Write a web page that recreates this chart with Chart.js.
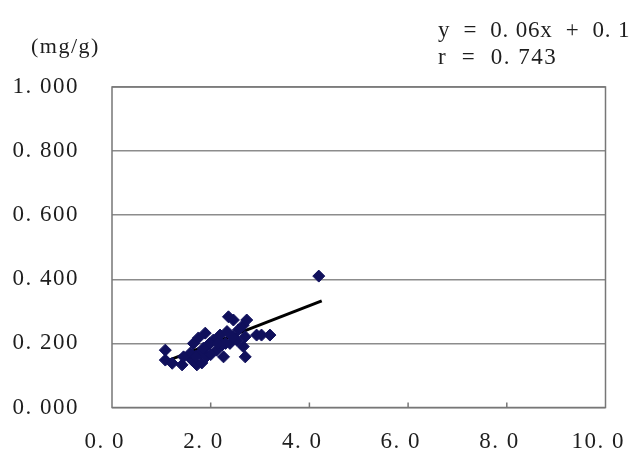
<!DOCTYPE html>
<html>
<head>
<meta charset="utf-8">
<script src="https://cdn.jsdelivr.net/npm/chart.js@4/dist/chart.umd.min.js"></script>
<style>
  html, body { margin: 0; padding: 0; background: #fff; }
  #wrap { position: relative; width: 636px; height: 455px; overflow: hidden; }
  canvas { position: absolute; left: 0; top: 0; }
  .note { position: absolute; font-family: "Liberation Serif", serif; color: #1e1e1e; white-space: pre; line-height: 22px; letter-spacing: 1.5px; }
</style>
</head>
<body>
<div id="wrap">
  <canvas id="c" width="636" height="455"></canvas>
  <div class="note" id="unit" style="left:31px; top:35px; font-size:22px;"></div>
  <div class="note" id="eq" style="left:438px; top:19px; font-size:23px; letter-spacing:0.8px;"></div>
  <div class="note" id="rr" style="left:438px; top:46px; font-size:23px;"></div>
</div>
<script>
// Measured samples (x, content in mg/g)
const sampleX = [1.08, 1.08, 1.22, 1.42, 1.62, 1.72, 1.82, 1.65, 1.75, 1.89, 1.92, 2.05, 2.12, 2.19,
                 2.33, 2.36, 2.46, 2.39, 2.56, 2.66, 2.73, 2.70, 2.66, 2.70, 2.93, 3.03, 3.20, 1.59,
                 1.79, 1.92, 1.45, 2.23, 2.53, 2.26, 1.98, 2.00, 1.85, 2.15, 2.30, 2.45, 1.70, 4.19];
const sampleY = [0.179, 0.148, 0.138, 0.133, 0.148, 0.133, 0.139, 0.200, 0.217, 0.232, 0.190, 0.210, 0.179, 0.226,
                 0.237, 0.283, 0.273, 0.200, 0.242, 0.257, 0.273, 0.221, 0.190, 0.158, 0.226, 0.226, 0.226, 0.170,
                 0.170, 0.160, 0.158, 0.195, 0.210, 0.158, 0.200, 0.165, 0.185, 0.200, 0.200, 0.220, 0.160, 0.410];

// Regression line end points
const trendX = [1.08, 4.25];
const trendY = [0.143, 0.333];

// Axis ticks
const xTicks = [0, 2, 4, 6, 8, 10];
const yTicks = [0, 0.2, 0.4, 0.6, 0.8, 1.0];

// Annotation texts
const unitLabel = "(mg/g)";
const equationLabel = "y  =  0. 06x  +  0. 1";
const rLabel = "r  =  0. 743";

document.getElementById('unit').textContent = unitLabel;
document.getElementById('eq').textContent = equationLabel;
document.getElementById('rr').textContent = rLabel;

const points = sampleX.map((x, i) => ({ x: x, y: sampleY[i] }));
const trend = trendX.map((x, i) => ({ x: x, y: trendY[i] }));

// Number labels in the Japanese style: a gap after the decimal point
const fmt = (v, d) => v.toFixed(d).replace('.', '. ');

const tickFont = { family: "Liberation Serif", size: 23 };
const textColor = '#1e1e1e';

// Spread the glyphs of the canvas text a little
const spacing = {
  id: 'spacing',
  beforeInit(chart) { chart.ctx.letterSpacing = '1.5px'; },
  beforeDraw(chart) { chart.ctx.letterSpacing = '1.5px'; }
};

// Frame around the plot area plus short inward tick marks on the x axis
const frame = {
  id: 'frame',
  beforeDatasetsDraw(chart) {
    const { ctx, chartArea: a, scales } = chart;
    ctx.save();
    ctx.strokeStyle = '#777';
    ctx.lineWidth = 1.5;
    ctx.strokeRect(a.left, a.top, a.right - a.left, a.bottom - a.top);
    ctx.beginPath();
    xTicks.slice(1, -1).forEach(v => {
      const px = scales.x.getPixelForValue(v);
      ctx.moveTo(px, a.bottom);
      ctx.lineTo(px, a.bottom - 5);
    });
    ctx.stroke();
    ctx.restore();
  }
};

new Chart(document.getElementById('c'), {
  type: 'scatter',
  data: {
    datasets: [
      {
        type: 'line',
        data: trend,
        borderColor: '#000',
        borderWidth: 3,
        pointRadius: 0,
        fill: false,
        order: 1
      },
      {
        data: points,
        pointStyle: 'rectRot',
        pointRadius: 6,
        backgroundColor: '#10105c',
        borderColor: '#10105c',
        borderWidth: 1,
        order: 0
      }
    ]
  },
  options: {
    responsive: false,
    animation: false,
    devicePixelRatio: 1,
    layout: { padding: { left: 0, right: 30.5, top: 87, bottom: 0 } },
    plugins: { legend: { display: false }, tooltip: { enabled: false } },
    scales: {
      x: {
        type: 'linear',
        min: 0,
        max: 10,
        afterBuildTicks: s => { s.ticks = xTicks.map(v => ({ value: v })); },
        afterFit: s => { s.height = 47.5; s.paddingLeft = 0; s.paddingRight = 0; },
        ticks: {
          font: tickFont,
          color: textColor,
          padding: 13,
          maxRotation: 0,
          callback: v => fmt(v, 1) + '  '
        },
        grid: { display: false },
        border: { display: false }
      },
      y: {
        min: 0,
        max: 1,
        afterBuildTicks: s => { s.ticks = yTicks.map(v => ({ value: v })); },
        afterFit: s => { s.width = 112; s.paddingTop = 0; s.paddingBottom = 0; },
        ticks: {
          font: tickFont,
          color: textColor,
          padding: 33,
          callback: v => fmt(v, 3)
        },
        grid: { color: '#8c8c8c', lineWidth: 1.5, drawTicks: false },
        border: { display: false }
      }
    }
  },
  plugins: [spacing, frame]
});
</script>
</body>
</html>
